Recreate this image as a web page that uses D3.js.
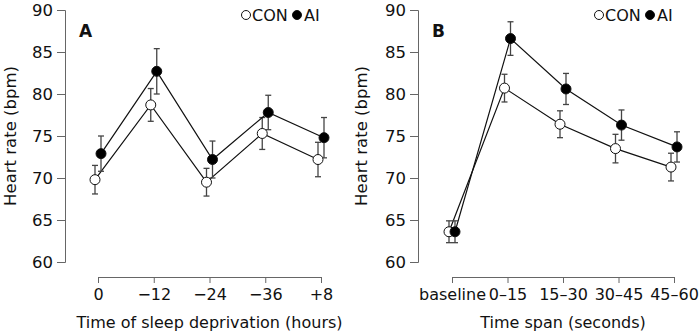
<!DOCTYPE html>
<html>
<head>
  <style>
    body, html { margin: 0; padding: 0; background: #fff; }
    svg text { font-family: "DejaVu Sans", sans-serif; }
  </style>
</head>
<body>
  <svg id="svg" width="700" height="333"></svg>
  <script src="https://cdn.jsdelivr.net/npm/d3@7"></script>
  <script>
    // panel A: sleep deprivation
    const sleepLabels = ['0', '\u221212', '\u221224', '\u221236', '+8']
    const sleepCon = [69.8, 78.7, 69.5, 75.3, 72.2]
    const sleepConErr = [1.7, 1.95, 1.65, 1.9, 2.05]
    const sleepAi = [72.9, 82.7, 72.2, 77.8, 74.8]
    const sleepAiErr = [2.1, 2.7, 2.2, 2.05, 2.4]

    // panel B: time span
    const spanLabels = ['baseline', '0\u201315', '15\u201330', '30\u201345', '45\u201360']
    const spanCon = [63.6, 80.7, 76.4, 73.5, 71.3]
    const spanConErr = [1.3, 1.65, 1.6, 1.7, 1.65]
    const spanAi = [63.6, 86.6, 80.6, 76.3, 73.7]
    const spanAiErr = [1.3, 2.0, 1.85, 1.8, 1.8]

    const yTicks = [60, 65, 70, 75, 80, 85, 90]

    const svg = d3.select('#svg')

    function drawPanel(opt) {
      const g = svg.append('g')

      const y = d3.scaleLinear().domain([60, 90]).range([262, 10])
      const x = d3.scalePoint().domain(opt.labels).range([opt.x0, opt.x1])

      // y axis
      const yAx = g.append('g')
        .attr('transform', `translate(${opt.yAxisX},0)`)
        .call(d3.axisLeft(y).tickValues(yTicks).tickSize(8).tickPadding(4))
      yAx.selectAll('path, line').attr('stroke', '#666')
      yAx.selectAll('text').attr('font-size', 16.5).attr('fill', '#111')
        .attr('font-family', '"DejaVu Sans", sans-serif')

      // x axis
      const xAx = g.append('g')
        .attr('transform', `translate(0,${opt.xAxisY})`)
        .call(d3.axisBottom(x).tickSize(6).tickPadding(6))
      xAx.selectAll('path, line').attr('stroke', '#666')
      xAx.selectAll('text').attr('font-size', 16).attr('fill', '#111')
        .attr('font-family', '"DejaVu Sans", sans-serif')

      // titles
      g.append('text')
        .attr('x', (opt.x0 + opt.x1) / 2)
        .attr('y', 328)
        .attr('text-anchor', 'middle')
        .attr('font-size', 16)
        .attr('fill', '#111')
        .text(opt.xTitle)

      g.append('text')
        .attr('transform', `translate(${opt.yTitleX},${y(75)}) rotate(-90)`)
        .attr('text-anchor', 'middle')
        .attr('font-size', 16.5)
        .attr('fill', '#111')
        .text('Heart rate (bpm)')

      g.append('text')
        .attr('x', opt.letterX)
        .attr('y', 37)
        .attr('font-size', 17)
        .attr('font-weight', 'bold')
        .attr('fill', '#111')
        .text(opt.letter)

      const series = [
        { vals: opt.con, err: opt.conErr, dx: -3, fill: '#fff' },
        { vals: opt.ai, err: opt.aiErr, dx: 3, fill: '#000' }
      ]

      series.forEach(s => {
        const px = i => x(opt.labels[i]) + s.dx
        const lineS = d3.line().x((d, i) => px(i)).y(d => y(d))
        g.append('path')
          .attr('d', lineS(s.vals))
          .attr('fill', 'none')
          .attr('stroke', '#111')
          .attr('stroke-width', 1.2)

        const eb = g.append('g').attr('stroke', '#444').attr('stroke-width', 1.3)
        s.vals.forEach((v, i) => {
          const cx = px(i)
          eb.append('line').attr('x1', cx).attr('x2', cx)
            .attr('y1', y(v - s.err[i])).attr('y2', y(v + s.err[i]))
          eb.append('line').attr('x1', cx - 3).attr('x2', cx + 3)
            .attr('y1', y(v + s.err[i])).attr('y2', y(v + s.err[i]))
          eb.append('line').attr('x1', cx - 3).attr('x2', cx + 3)
            .attr('y1', y(v - s.err[i])).attr('y2', y(v - s.err[i]))
        })
      })

      series.forEach(s => {
        g.selectAll(null)
          .data(s.vals)
          .join('circle')
          .attr('cx', (d, i) => x(opt.labels[i]) + s.dx)
          .attr('cy', d => y(d))
          .attr('r', 5)
          .attr('fill', s.fill)
          .attr('stroke', '#111')
          .attr('stroke-width', 1)
      })

      // legend
      const lg = g.append('g').attr('transform', `translate(${opt.legendX},15)`)
      lg.append('circle').attr('cx', 0).attr('cy', 0).attr('r', 4.5)
        .attr('fill', '#fff').attr('stroke', '#111')
      lg.append('text').attr('x', 6).attr('y', 6).attr('font-size', 16).attr('fill', '#111').text('CON')
      lg.append('circle').attr('cx', 51).attr('cy', 0).attr('r', 4.5)
        .attr('fill', '#000').attr('stroke', '#111')
      lg.append('text').attr('x', 58).attr('y', 6).attr('font-size', 16).attr('fill', '#111').text('AI')
    }

    drawPanel({
      labels: sleepLabels, con: sleepCon, conErr: sleepConErr, ai: sleepAi, aiErr: sleepAiErr,
      x0: 98, x1: 321, yAxisX: 65, xAxisY: 277, yTitleX: 16, letter: 'A', letterX: 79,
      xTitle: 'Time of sleep deprivation (hours)', legendX: 246
    })

    drawPanel({
      labels: spanLabels, con: spanCon, conErr: spanConErr, ai: spanAi, aiErr: spanAiErr,
      x0: 452, x1: 674, yAxisX: 418, xAxisY: 277, yTitleX: 367, letter: 'B', letterX: 432,
      xTitle: 'Time span (seconds)', legendX: 599
    })
  </script>
</body>
</html>
